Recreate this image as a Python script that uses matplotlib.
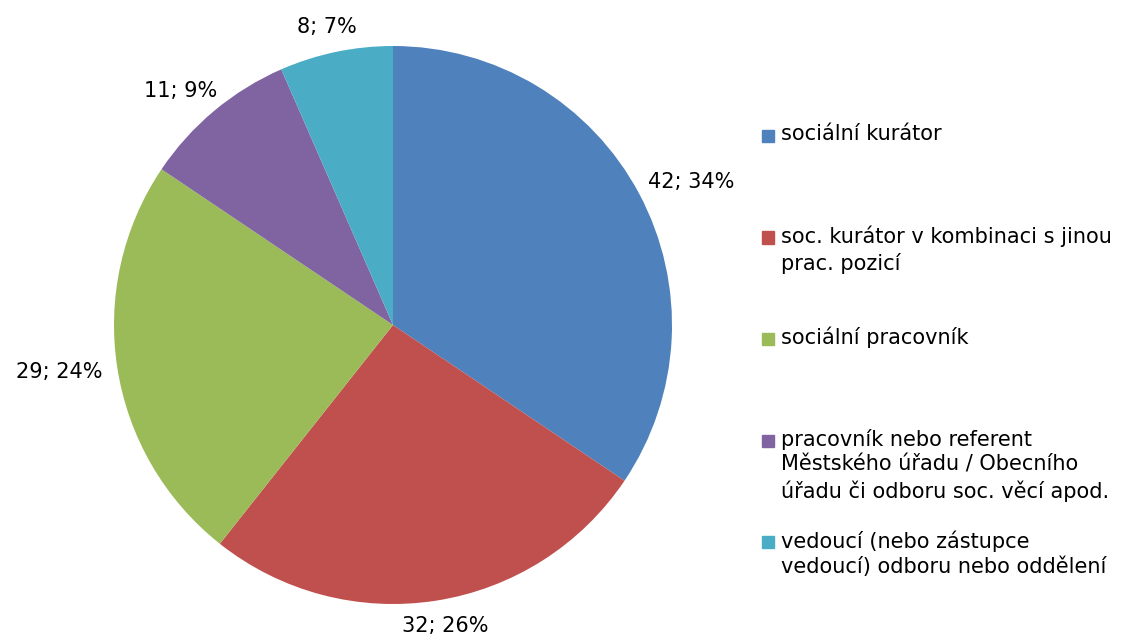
import numpy as np
import matplotlib.pyplot as plt
from matplotlib.patches import Rectangle

# data
categories = [
    "sociální kurátor",
    "soc. kurátor v kombinaci s jinou\nprac. pozicí",
    "sociální pracovník",
    "pracovník nebo referent\nMěstského úřadu / Obecního\núřadu či odboru soc. věcí apod.",
    "vedoucí (nebo zástupce\nvedoucí) odboru nebo oddělení",
]
counts = [42, 32, 29, 11, 8]
colors = ["#4F81BD", "#C0504D", "#9BBB59", "#8064A2", "#4BACC6"]

total = sum(counts)
labels = ["%d; %d%%" % (c, round(100 * c / total)) for c in counts]

FS = 15

fig = plt.figure(figsize=(11.32, 6.35), dpi=100)
ax = fig.add_axes([114 / 1132, 31 / 635, 558 / 1132, 558 / 635])

wedges, texts = ax.pie(counts, colors=colors, labels=labels, startangle=90,
                       counterclock=False, labeldistance=1.055,
                       textprops={"fontsize": FS})
ax.set_xlim(-1, 1)
ax.set_ylim(-1, 1)
ax.set_aspect("equal")

# push each label outward like Excel's "outside end" labels
fig.canvas.draw()
r = fig.canvas.get_renderer()
inv = ax.transData.inverted()
for w, t in zip(wedges, texts):
    ang = np.deg2rad((w.theta1 + w.theta2) / 2)
    t.set_ha("center")
    t.set_va("center")
    bb = t.get_window_extent(r)
    (x0, y0), (x1, y1) = inv.transform([[bb.x0, bb.y0], [bb.x1, bb.y1]])
    x, y = t.get_position()
    t.set_position((x + (x1 - x0) / 2 * np.cos(ang), y + (y1 - y0) / 2 * np.sin(ang)))

# legend drawn by hand, one entry every ~101 px
ystart = 136
step = 101.5
for i, (lab, col) in enumerate(zip(categories, colors)):
    yc = ystart + i * step
    fig.patches.append(Rectangle((762 / 1132, 1 - (yc + 6) / 635), 12 / 1132, 12 / 635,
                                 transform=fig.transFigure, color=col))
    fig.text(781 / 1132, 1 - (yc - 12) / 635, lab, fontsize=FS, va="top",
             ha="left", linespacing=1.33)

fig.savefig("out.png", dpi=100)
